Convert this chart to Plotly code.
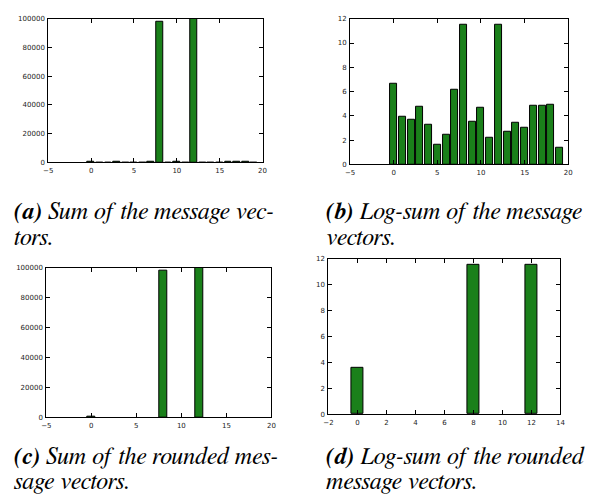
import plotly.graph_objects as go

# ---- data ----
idx_all = list(range(20))
sum_vals = [770, 49, 40, 115, 26, 5, 11, 470, 98000, 35, 105, 9, 99800, 14, 30, 21, 128, 122, 141, 4]
logsum_vals = [6.65, 3.9, 3.7, 4.75, 3.25, 1.65, 2.4, 6.15, 11.5, 3.55, 4.65, 2.2, 11.5, 2.65, 3.4, 3.05, 4.85, 4.8, 4.95, 1.4]
idx_rounded = [0, 8, 12]
rounded_sum_vals = [36, 98000, 99800]
rounded_logsum_vals = [3.6, 11.5, 11.5]

captions = [
    ("(a)", " Sum of the message vec-", "tors."),
    ("(b)", " Log-sum of the message", "vectors."),
    ("(c)", " Sum of the rounded mes-", "sage vectors."),
    ("(d)", " Log-sum of the rounded", "message vectors."),
]

W, H = 590, 495
def px(x0, x1):
    return [x0 / W, x1 / W]
def py(top, bottom):
    return [1 - bottom / H, 1 - top / H]

GREEN = "#1a801a"
fig = go.Figure()
bar_style = dict(marker=dict(color=GREEN, line=dict(color="black", width=1)), width=0.8, showlegend=False, hoverinfo="x+y")

fig.add_trace(go.Bar(x=idx_all, y=sum_vals, xaxis="x", yaxis="y", **bar_style))
fig.add_trace(go.Bar(x=idx_all, y=logsum_vals, xaxis="x2", yaxis="y2", **bar_style))
fig.add_trace(go.Bar(x=idx_rounded, y=rounded_sum_vals, xaxis="x3", yaxis="y3", **bar_style))
fig.add_trace(go.Bar(x=idx_rounded, y=rounded_logsum_vals, xaxis="x4", yaxis="y4", **bar_style))

tickfont = dict(family="DejaVu Sans", size=7, color="#222")
def axis(domain, rng, dtick, anchor):
    return dict(domain=domain, range=rng, dtick=dtick, tick0=0, anchor=anchor,
                showline=True, mirror="allticks", linecolor="black", linewidth=1,
                ticks="inside", ticklen=4, tickwidth=0.8, tickcolor="black",
                showgrid=False, zeroline=False, tickfont=tickfont, ticklabelstandoff=1,
                tickformat="d", fixedrange=True)

fig.update_layout(
    width=W, height=H, margin=dict(l=0, r=0, t=0, b=0),
    paper_bgcolor="white", plot_bgcolor="white", bargap=0,
    xaxis=axis(px(44, 262), [-5, 20], 5, "y"),
    yaxis=axis(py(15, 161), [0, 100000], 20000, "x"),
    xaxis2=axis(px(351, 573), [-5, 20], 5, "y2"),
    yaxis2=axis(py(15, 163), [0, 12], 2, "x2"),
    xaxis3=axis(px(42, 271), [-5, 20], 5, "y3"),
    yaxis3=axis(py(268, 420), [0, 100000], 20000, "x3"),
    xaxis4=axis(px(329, 565), [-2, 14], 2, "y4"),
    yaxis4=axis(py(259, 417), [0, 12], 2, "x4"),
)

cap_pos = [(7, 211, 238), (325, 211, 238), (7, 460, 486), (325, 460, 486)]
for (lab, l1, l2), (x, y1, y2) in zip(captions, cap_pos):
    for txt, yy in ((f"<b><i>{lab}</i></b><i>{l1}</i>", y1), (f"<i>{l2}</i>", y2)):
        fig.add_annotation(text=txt, x=x / W, y=1 - yy / H, xref="paper", yref="paper",
                           xanchor="left", yanchor="middle", showarrow=False,
                           font=dict(family="FreeSerif", size=24, color="black"))

fig.write_html("out.html")
